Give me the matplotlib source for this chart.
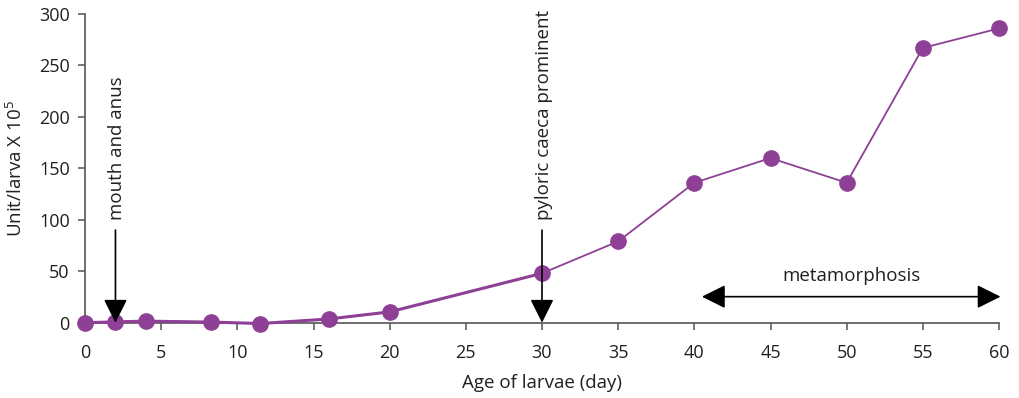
import matplotlib
matplotlib.use("Agg")
import matplotlib.pyplot as plt

# Enzyme activity per larva over larval age
age_days = [0, 2, 4, 8.3, 11.5, 16, 20, 30, 35, 40, 45, 50, 55, 60]
units_per_larva = [0, 0.8, 1.5, 0.6, -0.8, 3.6, 10.5, 48, 79, 136, 160, 136, 267, 286]

x_ticks = [0, 5, 10, 15, 20, 25, 30, 35, 40, 45, 50, 55, 60]
y_ticks = [0, 50, 100, 150, 200, 250, 300]

events = ["mouth and anus", "pyloric caeca prominent"]
event_days = [2, 30]
metamorphosis_span = [40.5, 60.1]

purple = "#8E3F96"
ink = "#231F20"

plt.rcParams["font.family"] = ["Open Sans", "DejaVu Sans"]
plt.rcParams["mathtext.default"] = "regular"

fig = plt.figure(figsize=(10.2, 3.98), dpi=100)
ax = fig.add_axes([85 / 1020, 1 - 322.7 / 398, 914 / 1020, 308.7 / 398])

# thicker early segment, thinner later segment
split = age_days.index(30) + 1
ax.plot(age_days[:split], units_per_larva[:split], color=purple, lw=2.2,
        solid_capstyle="round", clip_on=False, zorder=3)
ax.plot(age_days[split - 1:], units_per_larva[split - 1:], color=purple, lw=1.3,
        clip_on=False, zorder=3)
ax.plot(age_days, units_per_larva, linestyle="none", marker="o", ms=11,
        color=purple, clip_on=False, zorder=4)

ax.set_xlim(0, 60)
ax.set_ylim(0, 300)
ax.set_xticks(x_ticks)
ax.set_yticks(y_ticks)

for side in ("top", "right"):
    ax.spines[side].set_visible(False)
for side in ("left", "bottom"):
    ax.spines[side].set_color("#555555")
    ax.spines[side].set_linewidth(1.2)
ax.tick_params(direction="out", length=5, width=1.1, color="#555555",
               labelsize=13, labelcolor=ink, pad=6)
ax.tick_params(axis="x", pad=10)

ax.set_xlabel("Age of larvae (day)", fontsize=13.5, color=ink, labelpad=9)
ax.set_ylabel("Unit/larva X 10$^{5}$", fontsize=13.5, color=ink, labelpad=9)

arrow_kw = dict(arrowstyle="-|>,head_width=0.5,head_length=1.0", color="black",
                lw=1.2, shrinkA=0, shrinkB=0, mutation_scale=14.5)

# developmental events marked by downward arrows
for label, day in zip(events, event_days):
    ax.annotate("", xy=(day, 0), xytext=(day, 90), arrowprops=arrow_kw,
                annotation_clip=False, zorder=5)
    ax.text(day + 0.1, 100, label, rotation=90, ha="center", va="bottom",
            fontsize=13.5, color=ink)

# metamorphosis period
ax.annotate("", xy=(metamorphosis_span[0], 25.3), xytext=(metamorphosis_span[1], 25.3),
            arrowprops=dict(arrow_kw, arrowstyle="<|-|>,head_width=0.5,head_length=1.0"),
            annotation_clip=False, zorder=5)
ax.text(50.3, 45, "metamorphosis", ha="center", va="center", fontsize=13.5, color=ink)

fig.savefig("out.png", dpi=100)
